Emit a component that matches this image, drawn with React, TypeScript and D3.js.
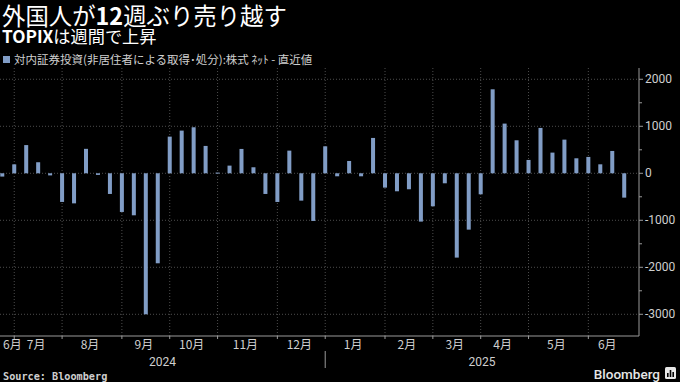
import React from "react";
import * as d3 from "d3";

const weeks: string[] = [
  "2024-06-28", "2024-07-05", "2024-07-12", "2024-07-19", "2024-07-26",
  "2024-08-02", "2024-08-09", "2024-08-16", "2024-08-23", "2024-08-30",
  "2024-09-06", "2024-09-13", "2024-09-20", "2024-09-27",
  "2024-10-04", "2024-10-11", "2024-10-18", "2024-10-25",
  "2024-11-01", "2024-11-08", "2024-11-15", "2024-11-22", "2024-11-29",
  "2024-12-06", "2024-12-13", "2024-12-20", "2024-12-27",
  "2025-01-03", "2025-01-10", "2025-01-17", "2025-01-24", "2025-01-31",
  "2025-02-07", "2025-02-14", "2025-02-21", "2025-02-28",
  "2025-03-07", "2025-03-14", "2025-03-21", "2025-03-28",
  "2025-04-04", "2025-04-11", "2025-04-18", "2025-04-25",
  "2025-05-02", "2025-05-09", "2025-05-16", "2025-05-23", "2025-05-30",
  "2025-06-06", "2025-06-13", "2025-06-20", "2025-06-27",
];

const netBuying: number[] = [
  -70, 190, 600, 235, -45, -610, -640, 520, -35, -440, -823, -894, -3000, -1915,
  780, 908, 979, 582, 15, 163, 518, 128, -440, -610, 482, -582, -1014,
  574, -64, 262, -64, 752, -305, -383, -340, -1028, -702, -213, -1794, -1199,
  -447, 1787, 1057, 702, 284, 965, 440, 716, 319, 348, 191, 475, -518,
];

const yTicks: number[] = [-3000, -2000, -1000, 0, 1000, 2000];
const yMinorTicks: number[] = [-2500, -1500, -500, 500, 1500];
const years: string[] = ["2024", "2025"];

const title1a = "外国人が";
const title1b = "12";
const title1c = "週ぶり売り越す";
const title2a = "TOPIX";
const title2b = "は週間で上昇";
const legendLabel = "対内証券投資(非居住者による取得･処分):株式 ﾈｯﾄ - 直近値";
const source = "Source: Bloomberg";

const W = 680;
const H = 382;
const plotLeft = 0;
const plotRight = 639;
const plotTop = 68;
const plotBottom = 336;

const BAR = "#819dc6";
const GRID = "#4d4d4d";
const AXIS = "#9a9a9a";
const TXT = "#cfcfcf";
const CJK = "'Noto Sans CJK JP', 'Noto Sans', sans-serif";
const NUM = "Roboto, 'Noto Sans', sans-serif";

export default function App() {
  const x = d3
    .scaleBand<string>()
    .domain(weeks)
    .range([-3.7, 630.2])
    .paddingInner(0.665)
    .paddingOuter(0.3325);
  const y = d3.scaleLinear().domain([-3462, 2240]).range([plotBottom, plotTop]);
  const cx = (w: string) => (x(w) as number) + x.bandwidth() / 2;

  const parse = d3.timeParse("%Y-%m-%d");
  const monthKey = (s: string) => s.slice(0, 7);
  const months: { key: string; first: string; label: string; year: string }[] = [];
  weeks.forEach((w) => {
    const k = monthKey(w);
    if (!months.length || months[months.length - 1].key !== k) {
      const d = parse(w) as Date;
      months.push({ key: k, first: w, label: `${d.getMonth() + 1}月`, year: String(d.getFullYear()) });
    }
  });
  const rangeEnd = x.range()[1];
  const monthLabels = months.map((m, i) => {
    const start = i === 0 ? plotLeft : cx(m.first);
    const end = i < months.length - 1 ? cx(months[i + 1].first) : rangeEnd;
    return { ...m, start, end, mid: (start + end) / 2, gridX: i === 0 ? null : cx(m.first) };
  });
  const yearBounds = years.map((yr) => {
    const ms = monthLabels.filter((m) => m.year === yr);
    const s = ms[0].gridX ?? plotLeft;
    const isLast = yr === years[years.length - 1];
    const nextIdx = monthLabels.indexOf(ms[ms.length - 1]) + 1;
    const e = isLast ? plotRight : (monthLabels[nextIdx].gridX as number);
    return { yr, s, e };
  });

  return (
    <svg width={W} height={H} style={{ position: "absolute", left: 0, top: 0, background: "#000" }}>
      <rect x={0} y={0} width={W} height={H} fill="#000" />
      <text x={2} y={25} fontFamily={CJK} fontSize={23.4} fill="#fff">
        <tspan>{title1a}</tspan>
        <tspan fontWeight="bold">{title1b}</tspan>
        <tspan>{title1c}</tspan>
      </text>
      <text x={2} y={42.5} fontFamily={CJK} fontSize={17.2} fill="#fff">
        <tspan fontWeight="bold">{title2a}</tspan>
        <tspan>{title2b}</tspan>
      </text>
      <rect x={3} y={56} width={7} height={7} fill={BAR} />
      <text x={14} y={64} fontFamily={CJK} fontSize={11.5} fill={TXT}>
        {legendLabel}
      </text>

      {yTicks.map((t) => (
        <line key={"h" + t} x1={plotLeft} x2={plotRight - 1} y1={y(t)} y2={y(t)} stroke={GRID} strokeDasharray="1,2" />
      ))}
      {monthLabels
        .filter((m) => m.gridX !== null)
        .map((m) => (
          <line key={"v" + m.key} x1={m.gridX as number} x2={m.gridX as number} y1={plotTop} y2={plotBottom} stroke={GRID} strokeDasharray="1,2" />
        ))}

      {weeks.map((w, i) => {
        const v = netBuying[i];
        const y0 = y(0);
        const y1 = y(v);
        return (
          <rect
            key={w}
            x={x(w) as number}
            width={x.bandwidth()}
            y={Math.min(y0, y1)}
            height={Math.max(1, Math.abs(y1 - y0))}
            fill={BAR}
          />
        );
      })}

      <line x1={plotRight} x2={plotRight} y1={plotTop} y2={plotBottom} stroke={AXIS} />
      {yTicks.map((t) => (
        <g key={"yt" + t}>
          <line x1={plotRight} x2={plotRight + 4} y1={y(t)} y2={y(t)} stroke={AXIS} />
          <text x={plotRight + 6} y={y(t)} dy="0.35em" fontFamily={NUM} fontSize={12} fill={TXT}>
            {t}
          </text>
        </g>
      ))}
      {yMinorTicks.map((t) => (
        <line key={"ym" + t} x1={plotRight} x2={plotRight + 3} y1={y(t)} y2={y(t)} stroke={AXIS} />
      ))}

      <line x1={plotLeft} x2={plotRight} y1={plotBottom} y2={plotBottom} stroke={AXIS} />
      {monthLabels
        .filter((m) => m.gridX !== null)
        .map((m) => (
          <line key={"bt" + m.key} x1={m.gridX as number} x2={m.gridX as number} y1={plotBottom} y2={plotBottom + 3} stroke={AXIS} />
        ))}
      {monthLabels.map((m, i) => (
        <text
          key={"ml" + m.key}
          x={i === 0 ? 3 : m.mid - 2}
          y={349}
          textAnchor={i === 0 ? "start" : "middle"}
          fontFamily={CJK}
          fontSize={12}
          fill={TXT}
        >
          {m.label}
        </text>
      ))}
      {yearBounds.map((b, i) => (
        <g key={b.yr}>
          <text x={(b.s + b.e) / 2} y={366} textAnchor="middle" fontFamily={NUM} fontSize={12} fill={TXT}>
            {b.yr}
          </text>
          {i > 0 && <line x1={b.s} x2={b.s} y1={351} y2={368} stroke={AXIS} />}
        </g>
      ))}

      <text x={3} y={380} fontFamily="'DejaVu Sans Mono', monospace" fontWeight="bold" fontSize={10.2} fill={TXT}>
        {source}
      </text>
      <text x={660} y={379} textAnchor="end" fontFamily="Roboto, sans-serif" fontWeight="500" fontSize={13.5} fill="#e6e6e6">
        Bloomberg
      </text>
      <g transform="translate(665,367)">
        <rect x={0} y={0} width={11} height={12} rx={1.5} fill="#e6e6e6" />
        <rect x={2} y={6} width={1.6} height={4} fill="#000" />
        <rect x={4.7} y={3} width={1.6} height={7} fill="#000" />
        <rect x={7.4} y={5} width={1.6} height={5} fill="#000" />
      </g>
    </svg>
  );
}
